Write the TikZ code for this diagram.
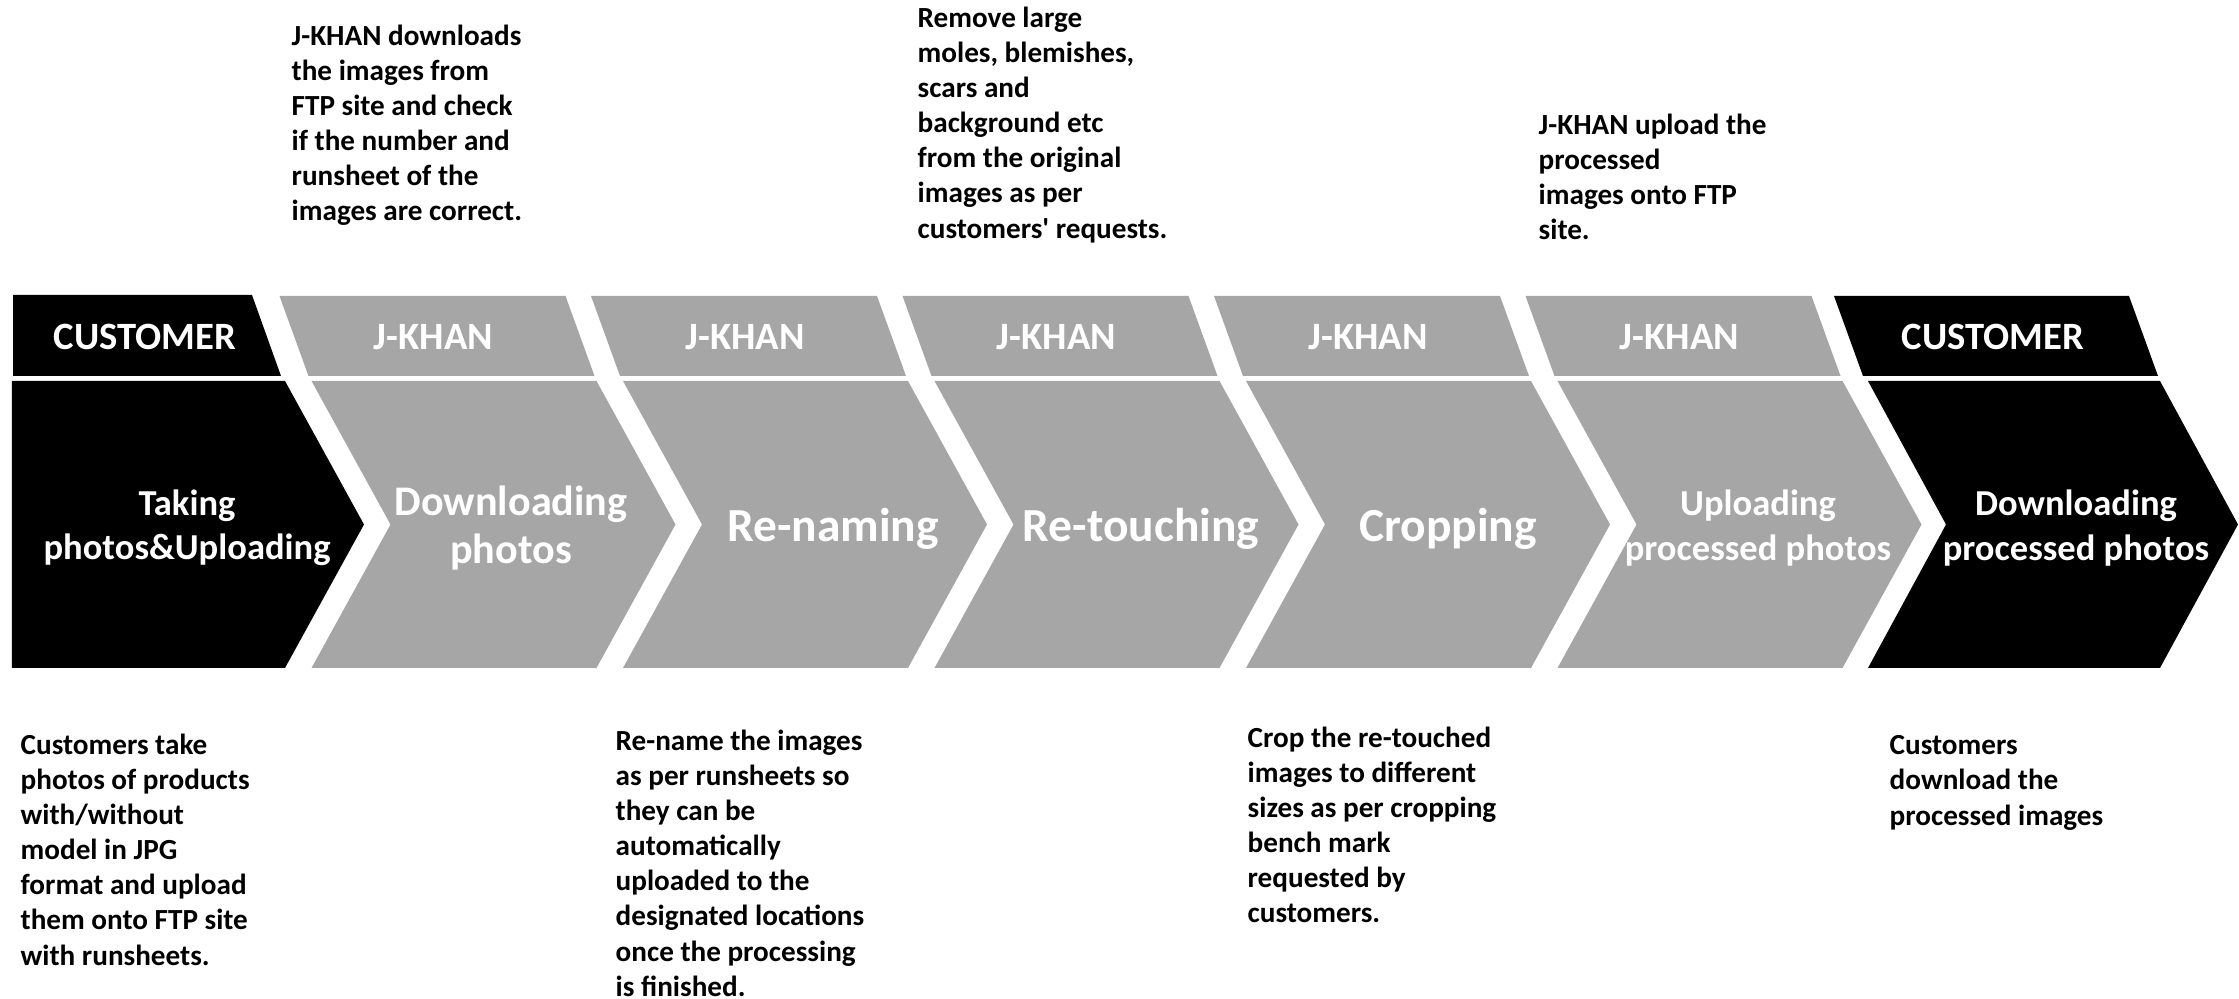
\documentclass[tikz,border=0pt]{standalone}
\usepackage{fontspec}
\setmainfont{Carlito}
\definecolor{khangray}{HTML}{A6A6A6}

\begin{document}
\begin{tikzpicture}[
  head/.style={text=white,font=\fontsize{11}{13}\selectfont\bfseries},
  big/.style={text=white,align=center,font=\fontsize{13.5}{16}\selectfont\bfseries},
  small/.style={text=white,align=center,font=\fontsize{10.4}{12.6}\selectfont\bfseries},
  note/.style={anchor=north west,align=left,inner sep=0pt,font=\fontsize{8.3}{10}\selectfont\bfseries}]
  \useasboundingbox (0,0) rectangle (22.39,9.99);
  \fill (0.13,6.23) -- (2.81,6.23) -- (2.52,7.04) -- (0.13,7.04) -- cycle;
  \fill (0.12,3.31) -- (2.85,3.31) -- (3.64,4.745) -- (2.85,6.18) -- (0.12,6.18) -- cycle;
  \foreach \i in {1,...,5} {
    \fill[khangray] ({3.115*\i-0.03},6.23) -- ++(2.86,0) -- ++(-0.29,0.8) -- ++(-2.86,0) -- cycle;
    \fill[khangray] ({3.115*\i},3.31) -- ++(2.85,0) -- ++(0.79,1.435) -- ++(-0.79,1.435) -- ++(-2.85,0) -- ++(0.79,-1.435) -- cycle;
  }
  \fill (18.63,6.23) -- ++(2.95,0) -- ++(-0.29,0.8) -- ++(-2.95,0) -- cycle;
  \fill (18.68,3.31) -- ++(2.92,0) -- ++(0.78,1.435) -- ++(-0.78,1.435) -- ++(-2.92,0) -- ++(0.78,-1.435) -- cycle;

  \node[head] (h0) at (1.45,6.62) {CUSTOMER};
  \foreach \i in {1,...,5} \node[head] (h\i) at ({3.115*\i+1.22},6.62) {J-KHAN};
  \node[head] (h6) at (19.93,6.62) {CUSTOMER};

  \node[small] (taking) at (1.87,4.71) {Taking\\photos\&Uploading};
  \node[big,font=\fontsize{12}{13.8}\selectfont\bfseries] (download) at (5.11,4.71) {Downloading\\photos};
  \node[big] (rename) at (8.33,4.70) {Re-naming};
  \node[big] (retouch) at (11.41,4.70) {Re-touching};
  \node[big] (crop) at (14.48,4.70) {Cropping};
  \node[small] (upload) at (17.58,4.71) {Uploading\\processed photos};
  \node[small] (fetch) at (20.76,4.71) {Downloading\\processed photos};

  \node[note] (n1) at (2.91,9.75) {J-KHAN downloads\\the images from\\FTP site and check\\if the number and\\runsheet of the\\images are correct.};
  \node[note] (n2) at (9.17,9.93) {Remove large\\moles, blemishes,\\scars and\\background etc\\from the original\\images as per\\customers\textquotesingle\ requests.};
  \node[note] (n3) at (15.38,8.86) {J-KHAN upload the\\processed\\images onto FTP\\site.};
  \node[note] (n4) at (0.20,2.66) {Customers take\\photos of products\\with/without\\model in JPG\\format and upload\\them onto FTP site\\with runsheets.};
  \node[note] (n5) at (6.15,2.70) {Re-name the images\\as per runsheets so\\they can be\\automatically\\uploaded to the\\designated locations\\once the processing\\is finished.};
  \node[note] (n6) at (12.47,2.73) {Crop the re-touched\\images to different\\sizes as per cropping\\bench mark\\requested by\\customers.};
  \node[note] (n7) at (18.89,2.64) {Customers\\download the\\processed images};
\end{tikzpicture}
\end{document}
